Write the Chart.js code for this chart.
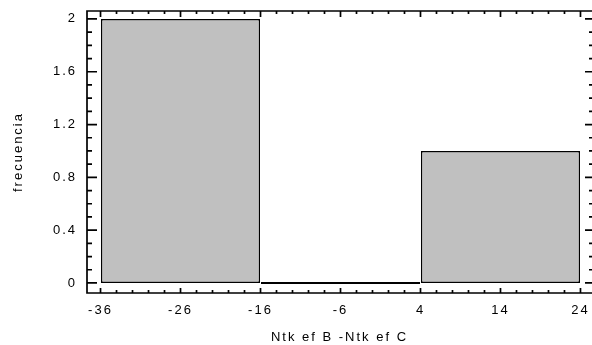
<!DOCTYPE html>
<html lang="es">
<head>
    <meta charset="UTF-8">
    <title>Histograma</title>
    <style>
        html, body { margin: 0; padding: 0; background: #fff; }
        #wrap { position: relative; width: 592px; height: 345px; }
    </style>
</head>
<body>
    <div id="wrap">
        <canvas id="myChart"></canvas>
    </div>
<script src="https://cdn.jsdelivr.net/npm/chart.js"></script>
<script>
    // datos del histograma
    var centrosClase = [-26, -6, 14];
    var frecuencias = [2, 0, 1];
    var ticksX = [-36, -26, -16, -6, 4, 14, 24];
    var ticksY = [0, 0.4, 0.8, 1.2, 1.6, 2];
    var tituloX = 'Ntk ef B -Ntk ef C';
    var tituloY = 'frecuencia';

    var fuente = { family: '"Liberation Sans", Arial, sans-serif', size: 13 };

    function espaciado(chart) {
        chart.ctx.letterSpacing = '2px';
    }

    // marco y marcas hacia dentro, como en el original
    const marcoPlugin = {
        id: 'marco',
        beforeLayout: espaciado,
        beforeDraw: espaciado,
        afterDraw(chart) {
            const ctx = chart.ctx;
            const a = chart.chartArea;
            const sx = chart.scales.x, sy = chart.scales.y;
            ctx.save();
            ctx.strokeStyle = '#000';
            ctx.lineWidth = 1.7;
            ctx.beginPath();
            ctx.moveTo(a.right + 2, a.top);
            ctx.lineTo(a.left, a.top);
            ctx.lineTo(a.left, a.bottom);
            ctx.lineTo(a.right + 2, a.bottom);
            // eje x: mayores cada 10, menores cada 2
            for (let v = -36; v <= 24; v += 2) {
                const px = sx.getPixelForValue(v);
                const mayor = (v + 36) % 10 === 0;
                const lb = mayor ? 5 : 3;
                const lt = mayor ? 6 : 3;
                ctx.moveTo(px, a.bottom);
                ctx.lineTo(px, a.bottom - lb);
                ctx.moveTo(px, a.top);
                ctx.lineTo(px, a.top + lt);
            }
            // eje y: mayores cada 0.4, menores cada 0.1
            for (let i = 0; i <= 20; i++) {
                const py = sy.getPixelForValue(i / 10);
                const mayor = i % 4 === 0;
                ctx.moveTo(a.left, py);
                ctx.lineTo(a.left + (mayor ? 10 : 5), py);
                ctx.moveTo(a.right, py);
                ctx.lineTo(a.right - (mayor ? 7 : 3), py);
            }
            ctx.stroke();
            ctx.restore();
        }
    };

    const ctx = document.getElementById('myChart');
    new Chart(ctx, {
        type: 'bar',
        data: {
            datasets: [{
                label: tituloY,
                data: centrosClase.map((c, i) => ({ x: c, y: frecuencias[i] })),
                backgroundColor: '#c0c0c0',
                borderColor: '#000',
                borderWidth: 1.5,
                borderSkipped: false,
                minBarLength: 2,
                // el ancho minimo lo marca la separacion de ticks (10), la clase mide 20
                barPercentage: 1.99,
                categoryPercentage: 1
            }]
        },
        plugins: [marcoPlugin],
        options: {
            responsive: true,
            maintainAspectRatio: false,
            animation: false,
            devicePixelRatio: 1,
            layout: { padding: { top: 11, right: 0, left: 0, bottom: 0 } },
            plugins: {
                legend: { display: false },
                tooltip: { enabled: false }
            },
            scales: {
                x: {
                    type: 'linear',
                    offset: false,
                    min: -37.69,
                    max: 25.44,
                    afterBuildTicks(scale) {
                        scale.ticks = ticksX.map(v => ({ value: v }));
                    },
                    afterFit(scale) {
                        scale.height = 52;
                        scale.paddingLeft = 0;
                        scale.paddingRight = 0;
                    },
                    grid: { display: false, drawTicks: false, offset: false },
                    border: { display: false },
                    ticks: {
                        padding: 10,
                        color: '#000',
                        font: fuente,
                        maxRotation: 0,
                        autoSkip: false
                    },
                    title: {
                        display: true,
                        text: tituloX,
                        color: '#000',
                        font: fuente,
                        padding: { top: 0, bottom: 0 }
                    }
                },
                y: {
                    min: -0.076,
                    max: 2.06,
                    afterBuildTicks(scale) {
                        scale.ticks = ticksY.map(v => ({ value: v }));
                    },
                    afterFit(scale) {
                        scale.width = 87;
                        scale.paddingTop = 0;
                        scale.paddingBottom = 0;
                    },
                    grid: { display: false, drawTicks: false },
                    border: { display: false },
                    ticks: {
                        padding: 10,
                        color: '#000',
                        font: fuente,
                        callback: v => String(Math.round(v * 10) / 10)
                    },
                    title: {
                        display: true,
                        text: tituloY,
                        color: '#000',
                        font: fuente,
                        padding: { top: 11, bottom: 0 }
                    }
                }
            }
        }
    });
</script>
</body>
</html>
